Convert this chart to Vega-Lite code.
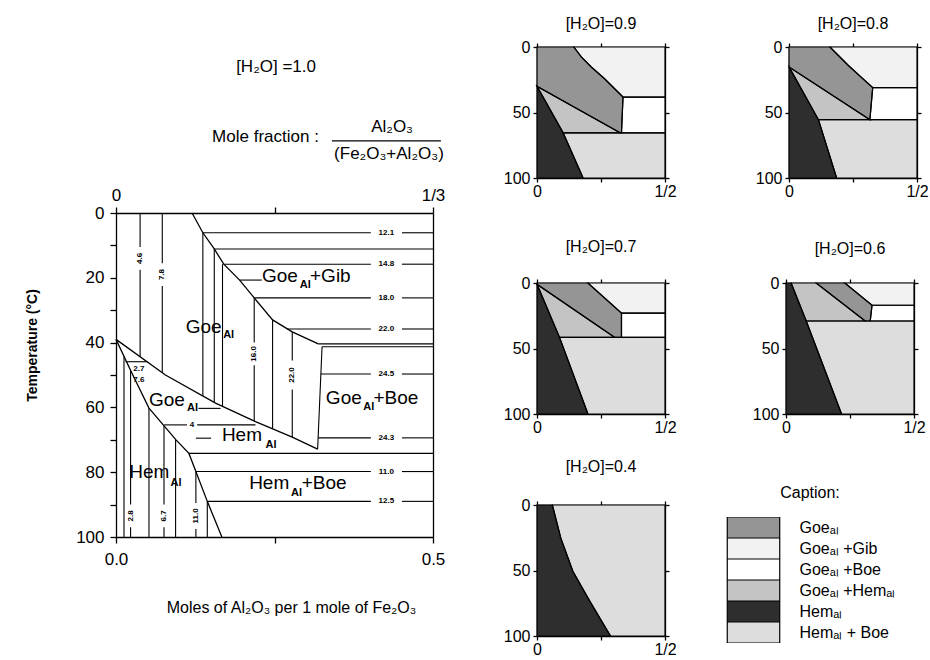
{
"$schema":"https://vega.github.io/schema/vega-lite/v6.json",
"background":"white",
"padding":{"left":25,"top":16,"right":0,"bottom":0},
"config":{
 "font":"Liberation Sans",
 "view":{"stroke":null},
 "axis":{"domainColor":"#000","tickColor":"#000","labelColor":"#000","titleColor":"#000","grid":false,"domainWidth":1.3,"tickWidth":1.3,"labelFont":"Liberation Sans","titleFont":"Liberation Sans"},
 "title":{"fontWeight":"normal","fontSize":16,"color":"#000","font":"Liberation Sans"},
 "text":{"color":"#000"}
},
"datasets":{
 "hdr":[
  {"k":"t","s":"[H₂O] =1.0","x":0.379,"y":0.171},
  {"k":"m","s":"Mole fraction :","x":0.64,"y":0.769},
  {"k":"f","s":"Al₂O₃","x":0.871,"y":0.684},
  {"k":"f","s":"(Fe₂O₃+Al₂O₃)","x":0.861,"y":0.915}
 ],
 "hline":[{"x":0.681,"x2":1.025,"y":0.803}],
 "mcurve":[
  {"c":"B","o":1,"x":0.12,"t":0},{"c":"B","o":2,"x":0.137,"t":6.1},{"c":"B","o":3,"x":0.155,"t":11.1},{"c":"B","o":4,"x":0.17,"t":15.8},{"c":"B","o":5,"x":0.195,"t":20.7},{"c":"B","o":6,"x":0.218,"t":26.2},{"c":"B","o":7,"x":0.247,"t":33},{"c":"B","o":8,"x":0.278,"t":36.7},{"c":"B","o":9,"x":0.319,"t":40.4},
  {"c":"U","o":1,"x":0,"t":39},{"c":"U","o":2,"x":0.078,"t":50},{"c":"U","o":3,"x":0.157,"t":58.7},{"c":"U","o":4,"x":0.22,"t":64.4},{"c":"U","o":5,"x":0.278,"t":69.2},{"c":"U","o":6,"x":0.318,"t":72.9},
  {"c":"L","o":1,"x":0,"t":39},{"c":"L","o":2,"x":0.025,"t":49.4},{"c":"L","o":3,"x":0.052,"t":60.2},{"c":"L","o":4,"x":0.095,"t":70.1},{"c":"L","o":5,"x":0.115,"t":74.2},{"c":"L","o":6,"x":0.126,"t":79.8},{"c":"L","o":7,"x":0.144,"t":89},{"c":"L","o":8,"x":0.167,"t":100}
 ],
 "mseg":[
  {"x":0.319,"x2":0.5,"t":40.4,"t2":40.4},{"x":0.325,"x2":0.5,"t":41.3,"t2":41.3},
  {"x":0.325,"x2":0.318,"t":41.3,"t2":72.9},
  {"x":0.137,"x2":0.402,"t":6.1,"t2":6.1},{"x":0.451,"x2":0.5,"t":6.1,"t2":6.1},
  {"x":0.155,"x2":0.5,"t":11.1,"t2":11.1},
  {"x":0.17,"x2":0.402,"t":15.8,"t2":15.8},{"x":0.451,"x2":0.5,"t":15.8,"t2":15.8},
  {"x":0.195,"x2":0.23,"t":20.7,"t2":20.7},
  {"x":0.218,"x2":0.402,"t":26.2,"t2":26.2},{"x":0.451,"x2":0.5,"t":26.2,"t2":26.2},
  {"x":0.27,"x2":0.402,"t":35.8,"t2":35.8},{"x":0.451,"x2":0.5,"t":35.8,"t2":35.8},
  {"x":0.323,"x2":0.402,"t":49.7,"t2":49.7},{"x":0.451,"x2":0.5,"t":49.7,"t2":49.7},
  {"x":0.319,"x2":0.402,"t":69.4,"t2":69.4},{"x":0.451,"x2":0.5,"t":69.4,"t2":69.4},
  {"x":0.115,"x2":0.5,"t":74.2,"t2":74.2},
  {"x":0.126,"x2":0.402,"t":79.8,"t2":79.8},{"x":0.451,"x2":0.5,"t":79.8,"t2":79.8},
  {"x":0.144,"x2":0.402,"t":89,"t2":89},{"x":0.451,"x2":0.5,"t":89,"t2":89},
  {"x":0.015,"x2":0.05,"t":45.9,"t2":45.9},
  {"x":0.13,"x2":0.165,"t":60.3,"t2":60.3},
  {"x":0.076,"x2":0.112,"t":65.4,"t2":65.4},{"x":0.128,"x2":0.22,"t":65.4,"t2":65.4},
  {"x":0.126,"x2":0.15,"t":69.5,"t2":69.5},
  {"x":0.038,"x2":0.038,"t":0,"t2":10.5},{"x":0.038,"x2":0.038,"t":17.5,"t2":44.4},
  {"x":0.073,"x2":0.073,"t":0,"t2":15.5},{"x":0.073,"x2":0.073,"t":22.5,"t2":49.3},
  {"x":0.137,"x2":0.137,"t":6.1,"t2":56.5},
  {"x":0.155,"x2":0.155,"t":11.1,"t2":58.5},
  {"x":0.168,"x2":0.168,"t":15.8,"t2":59.8},
  {"x":0.218,"x2":0.218,"t":26.2,"t2":40},{"x":0.218,"x2":0.218,"t":47,"t2":64.2},
  {"x":0.247,"x2":0.247,"t":33,"t2":66.6},
  {"x":0.278,"x2":0.278,"t":36.7,"t2":45.5},{"x":0.278,"x2":0.278,"t":54.5,"t2":69.2},
  {"x":0.0126,"x2":0.0126,"t":44.3,"t2":100},
  {"x":0.023,"x2":0.023,"t":48.6,"t2":90},{"x":0.023,"x2":0.023,"t":97,"t2":100},
  {"x":0.052,"x2":0.052,"t":60.2,"t2":100},
  {"x":0.0757,"x2":0.0757,"t":65.6,"t2":90},{"x":0.0757,"x2":0.0757,"t":97,"t2":100},
  {"x":0.094,"x2":0.094,"t":69.9,"t2":100},
  {"x":0.126,"x2":0.126,"t":79.8,"t2":89.5},{"x":0.126,"x2":0.126,"t":97.5,"t2":100},
  {"x":0.144,"x2":0.144,"t":89,"t2":100}
 ],
 "mtext":[
  {"k":"big","s":"Goe","x":0.11,"t":35.2},
  {"k":"sub","s":"Al","x":0.169,"t":37.8},
  {"k":"big","s":"Goe","x":0.2303,"t":19.5},
  {"k":"sub","s":"Al","x":0.29,"t":22.3},
  {"k":"big","s":"+Gib","x":0.306,"t":19.5},
  {"k":"big","s":"Goe","x":0.052,"t":57.7},
  {"k":"sub","s":"Al","x":0.112,"t":60.2},
  {"k":"big","s":"Hem","x":0.167,"t":68.5},
  {"k":"sub","s":"Al","x":0.236,"t":71.6},
  {"k":"big","s":"Goe","x":0.331,"t":57},
  {"k":"sub","s":"Al","x":0.39,"t":60},
  {"k":"big","s":"+Boe","x":0.406,"t":57},
  {"k":"big","s":"Hem","x":0.021,"t":79.8},
  {"k":"sub","s":"Al","x":0.086,"t":83.4},
  {"k":"big","s":"Hem","x":0.21,"t":83.4},
  {"k":"sub","s":"Al","x":0.276,"t":86.5},
  {"k":"big","s":"+Boe","x":0.293,"t":83.4},
  {"k":"num","s":"12.1","x":0.4265,"t":6.1},
  {"k":"num","s":"14.8","x":0.4265,"t":15.8},
  {"k":"num","s":"18.0","x":0.4265,"t":26.2},
  {"k":"num","s":"22.0","x":0.4265,"t":35.8},
  {"k":"num","s":"24.5","x":0.4265,"t":49.7},
  {"k":"num","s":"24.3","x":0.4265,"t":69.4},
  {"k":"num","s":"11.0","x":0.4265,"t":79.8},
  {"k":"num","s":"12.5","x":0.4265,"t":89},
  {"k":"num","s":"4","x":0.12,"t":65.4},
  {"k":"num","s":"2.7","x":0.036,"t":48},
  {"k":"num","s":"7.6","x":0.036,"t":51.5},
  {"k":"numv","s":"4.6","x":0.038,"t":14},
  {"k":"numv","s":"7.8","x":0.073,"t":19},
  {"k":"numv","s":"16.0","x":0.218,"t":43.5},
  {"k":"numv","s":"22.0","x":0.278,"t":50},
  {"k":"numv","s":"2.8","x":0.023,"t":93.5},
  {"k":"numv","s":"6.7","x":0.0757,"t":93.5},
  {"k":"numv","s":"11.0","x":0.126,"t":93.5}
 ],
 "p09":[
  {"r":"Goe","o":1,"x":0,"t":0},{"r":"Goe","o":2,"x":0.144,"t":0},{"r":"Goe","o":3,"x":0.173,"t":7.6},{"r":"Goe","o":4,"x":0.212,"t":15.3},{"r":"Goe","o":5,"x":0.264,"t":24.2},{"r":"Goe","o":6,"x":0.336,"t":38.2},{"r":"Goe","o":7,"x":0.33,"t":65.5},{"r":"Goe","o":8,"x":0.325,"t":65.5},{"r":"Goe","o":9,"x":0,"t":30},
  {"r":"GoeGib","o":1,"x":0.144,"t":0},{"r":"GoeGib","o":2,"x":0.5,"t":0},{"r":"GoeGib","o":3,"x":0.5,"t":38.2},{"r":"GoeGib","o":4,"x":0.336,"t":38.2},{"r":"GoeGib","o":5,"x":0.264,"t":24.2},{"r":"GoeGib","o":6,"x":0.212,"t":15.3},{"r":"GoeGib","o":7,"x":0.173,"t":7.6},
  {"r":"GoeBoe","o":1,"x":0.336,"t":38.2},{"r":"GoeBoe","o":2,"x":0.5,"t":38.2},{"r":"GoeBoe","o":3,"x":0.5,"t":65.5},{"r":"GoeBoe","o":4,"x":0.33,"t":65.5},
  {"r":"GoeHem","o":1,"x":0,"t":30},{"r":"GoeHem","o":2,"x":0.325,"t":65.5},{"r":"GoeHem","o":3,"x":0.102,"t":65.5},
  {"r":"Hem","o":1,"x":0,"t":30},{"r":"Hem","o":2,"x":0.102,"t":65.5},{"r":"Hem","o":3,"x":0.18,"t":100},{"r":"Hem","o":4,"x":0,"t":100},
  {"r":"HemBoe","o":1,"x":0.102,"t":65.5},{"r":"HemBoe","o":2,"x":0.5,"t":65.5},{"r":"HemBoe","o":3,"x":0.5,"t":100},{"r":"HemBoe","o":4,"x":0.18,"t":100}
 ],
 "p08":[
  {"r":"Goe","o":1,"x":0,"t":0},{"r":"Goe","o":2,"x":0.16,"t":0},{"r":"Goe","o":3,"x":0.192,"t":6.3},{"r":"Goe","o":4,"x":0.231,"t":13.9},{"r":"Goe","o":5,"x":0.276,"t":22},{"r":"Goe","o":6,"x":0.327,"t":31},{"r":"Goe","o":7,"x":0.316,"t":55.5},{"r":"Goe","o":8,"x":0,"t":15.2},
  {"r":"GoeGib","o":1,"x":0.16,"t":0},{"r":"GoeGib","o":2,"x":0.5,"t":0},{"r":"GoeGib","o":3,"x":0.5,"t":31},{"r":"GoeGib","o":4,"x":0.327,"t":31},{"r":"GoeGib","o":5,"x":0.276,"t":22},{"r":"GoeGib","o":6,"x":0.231,"t":13.9},{"r":"GoeGib","o":7,"x":0.192,"t":6.3},
  {"r":"GoeBoe","o":1,"x":0.327,"t":31},{"r":"GoeBoe","o":2,"x":0.5,"t":31},{"r":"GoeBoe","o":3,"x":0.5,"t":55.5},{"r":"GoeBoe","o":4,"x":0.316,"t":55.5},
  {"r":"GoeHem","o":1,"x":0,"t":15.2},{"r":"GoeHem","o":2,"x":0.316,"t":55.5},{"r":"GoeHem","o":3,"x":0.115,"t":55.5},
  {"r":"Hem","o":1,"x":0,"t":15.2},{"r":"Hem","o":2,"x":0.115,"t":55.5},{"r":"Hem","o":3,"x":0.186,"t":100},{"r":"Hem","o":4,"x":0,"t":100},
  {"r":"HemBoe","o":1,"x":0.115,"t":55.5},{"r":"HemBoe","o":2,"x":0.5,"t":55.5},{"r":"HemBoe","o":3,"x":0.5,"t":100},{"r":"HemBoe","o":4,"x":0.186,"t":100}
 ],
 "p07":[
  {"r":"Goe","o":1,"x":0,"t":0},{"r":"Goe","o":2,"x":0.199,"t":0},{"r":"Goe","o":3,"x":0.33,"t":23},{"r":"Goe","o":4,"x":0.33,"t":41.5},{"r":"Goe","o":5,"x":0.303,"t":41.5},{"r":"Goe","o":6,"x":0,"t":1},
  {"r":"GoeGib","o":1,"x":0.199,"t":0},{"r":"GoeGib","o":2,"x":0.5,"t":0},{"r":"GoeGib","o":3,"x":0.5,"t":23},{"r":"GoeGib","o":4,"x":0.33,"t":23},
  {"r":"GoeBoe","o":1,"x":0.33,"t":23},{"r":"GoeBoe","o":2,"x":0.5,"t":23},{"r":"GoeBoe","o":3,"x":0.5,"t":41.5},{"r":"GoeBoe","o":4,"x":0.33,"t":41.5},
  {"r":"GoeHem","o":1,"x":0,"t":1},{"r":"GoeHem","o":2,"x":0.303,"t":41.5},{"r":"GoeHem","o":3,"x":0.088,"t":41.5},
  {"r":"Hem","o":1,"x":0,"t":1},{"r":"Hem","o":2,"x":0.088,"t":41.5},{"r":"Hem","o":3,"x":0.199,"t":100},{"r":"Hem","o":4,"x":0,"t":100},
  {"r":"HemBoe","o":1,"x":0.088,"t":41.5},{"r":"HemBoe","o":2,"x":0.5,"t":41.5},{"r":"HemBoe","o":3,"x":0.5,"t":100},{"r":"HemBoe","o":4,"x":0.199,"t":100}
 ],
 "p06":[
  {"r":"Goe","o":1,"x":0.118,"t":0},{"r":"Goe","o":2,"x":0.23,"t":0},{"r":"Goe","o":3,"x":0.336,"t":17},{"r":"Goe","o":4,"x":0.329,"t":29},{"r":"Goe","o":5,"x":0.309,"t":29},
  {"r":"GoeGib","o":1,"x":0.23,"t":0},{"r":"GoeGib","o":2,"x":0.5,"t":0},{"r":"GoeGib","o":3,"x":0.5,"t":17},{"r":"GoeGib","o":4,"x":0.336,"t":17},
  {"r":"GoeBoe","o":1,"x":0.336,"t":17},{"r":"GoeBoe","o":2,"x":0.5,"t":17},{"r":"GoeBoe","o":3,"x":0.5,"t":29},{"r":"GoeBoe","o":4,"x":0.329,"t":29},
  {"r":"GoeHem","o":1,"x":0.02,"t":0},{"r":"GoeHem","o":2,"x":0.118,"t":0},{"r":"GoeHem","o":3,"x":0.309,"t":29},{"r":"GoeHem","o":4,"x":0.079,"t":29},
  {"r":"Hem","o":1,"x":0,"t":0},{"r":"Hem","o":2,"x":0.02,"t":0},{"r":"Hem","o":3,"x":0.079,"t":29},{"r":"Hem","o":4,"x":0.217,"t":100},{"r":"Hem","o":5,"x":0,"t":100},
  {"r":"HemBoe","o":1,"x":0.079,"t":29},{"r":"HemBoe","o":2,"x":0.5,"t":29},{"r":"HemBoe","o":3,"x":0.5,"t":100},{"r":"HemBoe","o":4,"x":0.217,"t":100}
 ],
 "p04":[
  {"r":"Hem","o":1,"x":0,"t":0},{"r":"Hem","o":2,"x":0.06,"t":0},{"r":"Hem","o":3,"x":0.093,"t":25.3},{"r":"Hem","o":4,"x":0.14,"t":50.6},{"r":"Hem","o":5,"x":0.206,"t":73.4},{"r":"Hem","o":6,"x":0.287,"t":100},{"r":"Hem","o":7,"x":0,"t":100},
  {"r":"HemBoe","o":1,"x":0.06,"t":0},{"r":"HemBoe","o":2,"x":0.5,"t":0},{"r":"HemBoe","o":3,"x":0.5,"t":100},{"r":"HemBoe","o":4,"x":0.287,"t":100},{"r":"HemBoe","o":5,"x":0.206,"t":73.4},{"r":"HemBoe","o":6,"x":0.14,"t":50.6},{"r":"HemBoe","o":7,"x":0.093,"t":25.3}
 ]
},
"spacing":58,
"resolve":{"scale":{"fill":"independent"}},
"hconcat":[
 {"spacing":22,"vconcat":[
  {"width":317,"height":117,
   "layer":[
    {"data":{"name":"hdr"},"transform":[{"filter":"datum.k=='t'"}],"mark":{"type":"text","align":"left","baseline":"middle","fontSize":17},
     "encoding":{"x":{"field":"x","type":"quantitative","scale":{"domain":[0,1],"nice":false,"zero":false},"axis":null},"y":{"field":"y","type":"quantitative","scale":{"domain":[0,1],"reverse":true,"nice":false,"zero":false},"axis":null},"text":{"field":"s"}}},
    {"data":{"name":"hdr"},"transform":[{"filter":"datum.k=='m'"}],"mark":{"type":"text","align":"right","baseline":"middle","fontSize":17},
     "encoding":{"x":{"field":"x","type":"quantitative","axis":null},"y":{"field":"y","type":"quantitative","axis":null},"text":{"field":"s"}}},
    {"data":{"name":"hdr"},"transform":[{"filter":"datum.k=='f'"}],"mark":{"type":"text","align":"center","baseline":"middle","fontSize":17},
     "encoding":{"x":{"field":"x","type":"quantitative","axis":null},"y":{"field":"y","type":"quantitative","axis":null},"text":{"field":"s"}}},
    {"data":{"name":"hline"},"mark":{"type":"rule","stroke":"#000","strokeWidth":1.2},
     "encoding":{"x":{"field":"x","type":"quantitative","axis":null},"x2":{"field":"x2"},"y":{"field":"y","type":"quantitative","axis":null}}}
   ]},
  {"width":317,"height":324,
   "resolve":{"axis":{"x":"independent","y":"independent"}},
   "layer":[
    {"data":{"name":"mcurve"},"mark":{"type":"line","stroke":"#000","strokeWidth":1.3},
     "encoding":{
      "x":{"field":"x","type":"quantitative","scale":{"domain":[0,0.5],"nice":false,"zero":false},
           "axis":{"orient":"bottom","values":[0,0.25,0.5],"labelExpr":"datum.value==0?'0.0':(datum.value==0.5?'0.5':'')","labelFlush":false,"tickSize":6,"labelPadding":8,"labelFontSize":17,"title":"Moles of Al₂O₃ per 1 mole of Fe₂O₃","titleFontSize":16,"titleFontWeight":"normal","titlePadding":32,"titleX":175}},
      "y":{"field":"t","type":"quantitative","scale":{"domain":[0,100],"reverse":true,"nice":false,"zero":false},
           "axis":{"orient":"left","values":[0,10,20,30,40,50,60,70,80,90,100],"labelExpr":"datum.value%20==0?datum.label:''","tickSize":6,"labelPadding":6,"labelFontSize":17,"title":"Temperature (°C)","titleFontSize":14,"titleFontWeight":"bold","titlePadding":36,"titleY":132}},
      "detail":{"field":"c"},
      "order":{"field":"o","type":"quantitative"}}},
    {"data":{"name":"mseg"},"mark":{"type":"rule","stroke":"#000","strokeWidth":1.1},
     "encoding":{
      "x":{"field":"x","type":"quantitative","axis":{"orient":"top","values":[0,0.25,0.5],"labelExpr":"datum.value==0?'0':(datum.value==0.5?'1/3':'')","labelFlush":false,"tickSize":6,"labelPadding":3,"labelFontSize":17,"title":null}},
      "x2":{"field":"x2"},
      "y":{"field":"t","type":"quantitative","axis":{"orient":"right","labels":false,"ticks":false,"title":null}},
      "y2":{"field":"t2"}}},
    {"data":{"name":"mtext"},"transform":[{"filter":"datum.k=='big'"}],"mark":{"type":"text","align":"left","baseline":"middle","fontSize":19},
     "encoding":{"x":{"field":"x","type":"quantitative","axis":null},"y":{"field":"t","type":"quantitative","axis":null},"text":{"field":"s"}}},
    {"data":{"name":"mtext"},"transform":[{"filter":"datum.k=='sub'"}],"mark":{"type":"text","align":"left","baseline":"middle","fontSize":11,"fontWeight":"bold"},
     "encoding":{"x":{"field":"x","type":"quantitative","axis":null},"y":{"field":"t","type":"quantitative","axis":null},"text":{"field":"s"}}},
    {"data":{"name":"mtext"},"transform":[{"filter":"datum.k=='num'"}],"mark":{"type":"text","align":"center","baseline":"middle","fontSize":8,"fontWeight":"bold"},
     "encoding":{"x":{"field":"x","type":"quantitative","axis":null},"y":{"field":"t","type":"quantitative","axis":null},"text":{"field":"s"}}},
    {"data":{"name":"mtext"},"transform":[{"filter":"datum.k=='numv'"}],"mark":{"type":"text","align":"center","baseline":"middle","fontSize":8,"fontWeight":"bold","angle":270},
     "encoding":{"x":{"field":"x","type":"quantitative","axis":null},"y":{"field":"t","type":"quantitative","axis":null},"text":{"field":"s"}}}
   ]}
 ]},
 {"spacing":40,"resolve":{"scale":{"fill":"independent"}},"vconcat":[
  {"spacing":78,"resolve":{"scale":{"fill":"independent"}},"hconcat":[
   {"width":128,"height":131,"title":{"text":"[H₂O]=0.9","offset":7},
    "resolve":{"axis":{"x":"independent","y":"independent"}},
    "layer":[
     {"data":{"name":"p09"},"mark":{"type":"line","interpolate":"linear-closed","strokeWidth":0},
      "encoding":{
       "x":{"field":"x","type":"quantitative","scale":{"domain":[0,0.5],"nice":false,"zero":false},"axis":{"orient":"bottom","values":[0,0.25,0.5],"labelExpr":"datum.value==0?'0':(datum.value==0.5?'1/2':'')","labelFlush":false,"tickSize":4,"labelPadding":1,"labelFontSize":16,"title":null}},
       "y":{"field":"t","type":"quantitative","scale":{"domain":[0,100],"reverse":true,"nice":false,"zero":false},"axis":{"orient":"left","values":[0,50,100],"tickSize":4,"labelPadding":3,"labelFontSize":16,"title":null,"minExtent":34}},
       "detail":{"field":"r"},"order":{"field":"o","type":"quantitative"},
       "fill":{"field":"r","type":"nominal","scale":{"domain":["Goe","GoeGib","GoeBoe","GoeHem","Hem","HemBoe"],"range":["#959595","#f2f2f2","#ffffff","#c4c4c4","#2e2e2e","#dddddd"]},"legend":null}}},
     {"data":{"name":"p09"},"mark":{"type":"line","interpolate":"linear-closed","stroke":"#000","strokeWidth":1.2},
      "encoding":{
       "x":{"field":"x","type":"quantitative","axis":{"orient":"top","values":[0,0.25,0.5],"labels":false,"tickSize":4,"title":null}},
       "y":{"field":"t","type":"quantitative","axis":{"orient":"right","values":[0,50,100],"labels":false,"tickSize":4,"title":null}},
       "detail":{"field":"r"},"order":{"field":"o","type":"quantitative"}}}
    ]},
   {"width":128,"height":131,"title":{"text":"[H₂O]=0.8","offset":7},
    "resolve":{"axis":{"x":"independent","y":"independent"}},
    "layer":[
     {"data":{"name":"p08"},"mark":{"type":"line","interpolate":"linear-closed","strokeWidth":0},
      "encoding":{
       "x":{"field":"x","type":"quantitative","scale":{"domain":[0,0.5],"nice":false,"zero":false},"axis":{"orient":"bottom","values":[0,0.25,0.5],"labelExpr":"datum.value==0?'0':(datum.value==0.5?'1/2':'')","labelFlush":false,"tickSize":4,"labelPadding":1,"labelFontSize":16,"title":null}},
       "y":{"field":"t","type":"quantitative","scale":{"domain":[0,100],"reverse":true,"nice":false,"zero":false},"axis":{"orient":"left","values":[0,50,100],"tickSize":4,"labelPadding":3,"labelFontSize":16,"title":null,"minExtent":34}},
       "detail":{"field":"r"},"order":{"field":"o","type":"quantitative"},
       "fill":{"field":"r","type":"nominal","scale":{"domain":["Goe","GoeGib","GoeBoe","GoeHem","Hem","HemBoe"],"range":["#959595","#f2f2f2","#ffffff","#c4c4c4","#2e2e2e","#dddddd"]},"legend":null}}},
     {"data":{"name":"p08"},"mark":{"type":"line","interpolate":"linear-closed","stroke":"#000","strokeWidth":1.2},
      "encoding":{
       "x":{"field":"x","type":"quantitative","axis":{"orient":"top","values":[0,0.25,0.5],"labels":false,"tickSize":4,"title":null}},
       "y":{"field":"t","type":"quantitative","axis":{"orient":"right","values":[0,50,100],"labels":false,"tickSize":4,"title":null}},
       "detail":{"field":"r"},"order":{"field":"o","type":"quantitative"}}}
    ]}
  ]},
  {"spacing":24,"resolve":{"scale":{"fill":"independent"}},"vconcat":[
   {"spacing":75,"resolve":{"scale":{"fill":"independent"}},"hconcat":[
    {"width":128,"height":131,"title":{"text":"[H₂O]=0.7","offset":20},
     "resolve":{"axis":{"x":"independent","y":"independent"}},
     "layer":[
      {"data":{"name":"p07"},"mark":{"type":"line","interpolate":"linear-closed","strokeWidth":0},
       "encoding":{
        "x":{"field":"x","type":"quantitative","scale":{"domain":[0,0.5],"nice":false,"zero":false},"axis":{"orient":"bottom","values":[0,0.25,0.5],"labelExpr":"datum.value==0?'0':(datum.value==0.5?'1/2':'')","labelFlush":false,"tickSize":4,"labelPadding":1,"labelFontSize":16,"title":null}},
        "y":{"field":"t","type":"quantitative","scale":{"domain":[0,100],"reverse":true,"nice":false,"zero":false},"axis":{"orient":"left","values":[0,50,100],"tickSize":4,"labelPadding":3,"labelFontSize":16,"title":null,"minExtent":34}},
        "detail":{"field":"r"},"order":{"field":"o","type":"quantitative"},
        "fill":{"field":"r","type":"nominal","scale":{"domain":["Goe","GoeGib","GoeBoe","GoeHem","Hem","HemBoe"],"range":["#959595","#f2f2f2","#ffffff","#c4c4c4","#2e2e2e","#dddddd"]},"legend":null}}},
      {"data":{"name":"p07"},"mark":{"type":"line","interpolate":"linear-closed","stroke":"#000","strokeWidth":1.2},
       "encoding":{
        "x":{"field":"x","type":"quantitative","axis":{"orient":"top","values":[0,0.25,0.5],"labels":false,"tickSize":4,"title":null}},
        "y":{"field":"t","type":"quantitative","axis":{"orient":"right","values":[0,50,100],"labels":false,"tickSize":4,"title":null}},
        "detail":{"field":"r"},"order":{"field":"o","type":"quantitative"}}}
     ]},
    {"width":128,"height":131,"title":{"text":"[H₂O]=0.6","offset":18},
     "resolve":{"axis":{"x":"independent","y":"independent"}},
     "layer":[
      {"data":{"name":"p06"},"mark":{"type":"line","interpolate":"linear-closed","strokeWidth":0},
       "encoding":{
        "x":{"field":"x","type":"quantitative","scale":{"domain":[0,0.5],"nice":false,"zero":false},"axis":{"orient":"bottom","values":[0,0.25,0.5],"labelExpr":"datum.value==0?'0':(datum.value==0.5?'1/2':'')","labelFlush":false,"tickSize":4,"labelPadding":1,"labelFontSize":16,"title":null}},
        "y":{"field":"t","type":"quantitative","scale":{"domain":[0,100],"reverse":true,"nice":false,"zero":false},"axis":{"orient":"left","values":[0,50,100],"tickSize":4,"labelPadding":3,"labelFontSize":16,"title":null,"minExtent":34}},
        "detail":{"field":"r"},"order":{"field":"o","type":"quantitative"},
        "fill":{"field":"r","type":"nominal","scale":{"domain":["Goe","GoeGib","GoeBoe","GoeHem","Hem","HemBoe"],"range":["#959595","#f2f2f2","#ffffff","#c4c4c4","#2e2e2e","#dddddd"]},"legend":null}}},
      {"data":{"name":"p06"},"mark":{"type":"line","interpolate":"linear-closed","stroke":"#000","strokeWidth":1.2},
       "encoding":{
        "x":{"field":"x","type":"quantitative","axis":{"orient":"top","values":[0,0.25,0.5],"labels":false,"tickSize":4,"title":null}},
        "y":{"field":"t","type":"quantitative","axis":{"orient":"right","values":[0,50,100],"labels":false,"tickSize":4,"title":null}},
        "detail":{"field":"r"},"order":{"field":"o","type":"quantitative"}}}
     ]}
   ]},
   {"width":128,"height":131,"title":{"text":"[H₂O]=0.4","offset":10},
    "resolve":{"axis":{"x":"independent","y":"independent"}},
    "layer":[
     {"data":{"name":"p04"},"mark":{"type":"line","interpolate":"linear-closed","strokeWidth":0},
      "encoding":{
       "x":{"field":"x","type":"quantitative","scale":{"domain":[0,0.5],"nice":false,"zero":false},"axis":{"orient":"bottom","values":[0,0.25,0.5],"labelExpr":"datum.value==0?'0':(datum.value==0.5?'1/2':'')","labelFlush":false,"tickSize":4,"labelPadding":1,"labelFontSize":16,"title":null}},
       "y":{"field":"t","type":"quantitative","scale":{"domain":[0,100],"reverse":true,"nice":false,"zero":false},"axis":{"orient":"left","values":[0,50,100],"tickSize":4,"labelPadding":3,"labelFontSize":16,"title":null,"minExtent":34}},
       "detail":{"field":"r"},"order":{"field":"o","type":"quantitative"},
       "fill":{"field":"r","type":"nominal","scale":{"domain":["Goe","GoeGib","GoeBoe","GoeHem","Hem","HemBoe"],"range":["#959595","#f2f2f2","#ffffff","#c4c4c4","#2e2e2e","#dddddd"]},
        "legend":{"title":"Caption:","orient":"none","legendX":188,"legendY":-20,"symbolType":"M-4.77,-1.91H4.77V1.91H-4.77Z","symbolSize":121,"symbolOffset":20.5,"symbolStrokeColor":"#000","symbolStrokeWidth":1.2,"symbolOpacity":1,"rowPadding":0,"clipHeight":21,"labelOffset":38,"labelFontSize":16,"labelColor":"#000","titleFontSize":16,"titleFontWeight":"normal","titleColor":"#000","titlePadding":16,"titleAnchor":"middle",
         "labelExpr":"datum.label=='Goe'?'Goeₐₗ':datum.label=='GoeGib'?'Goeₐₗ +Gib':datum.label=='GoeBoe'?'Goeₐₗ +Boe':datum.label=='GoeHem'?'Goeₐₗ +Hemₐₗ':datum.label=='Hem'?'Hemₐₗ':'Hemₐₗ + Boe'"}}}},
     {"data":{"name":"p04"},"mark":{"type":"line","interpolate":"linear-closed","stroke":"#000","strokeWidth":1.2},
      "encoding":{
       "x":{"field":"x","type":"quantitative","axis":{"orient":"top","values":[0,0.25,0.5],"labels":false,"tickSize":4,"title":null}},
       "y":{"field":"t","type":"quantitative","axis":{"orient":"right","values":[0,50,100],"labels":false,"tickSize":4,"title":null}},
       "detail":{"field":"r"},"order":{"field":"o","type":"quantitative"}}}
    ]}
  ]}
 ]}
]
}
